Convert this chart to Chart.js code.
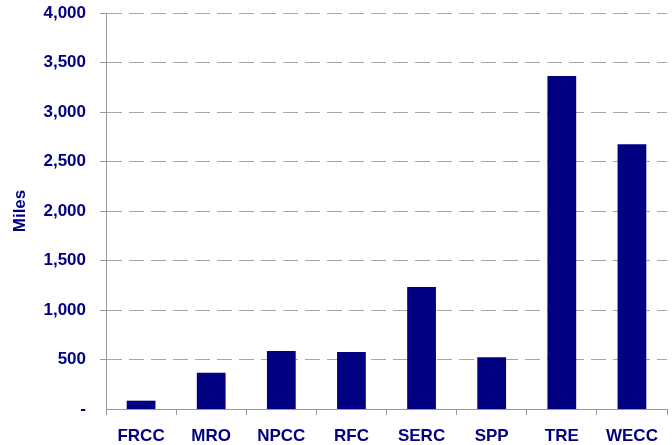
<!DOCTYPE html>
<html>
<head>
<meta charset="utf-8">
<script src="https://cdn.jsdelivr.net/npm/chart.js@4"></script>
<style>
  html, body { margin: 0; padding: 0; background: #fff; }
  #wrap { width: 672px; height: 445px; }
</style>
</head>
<body>
<div id="wrap"><canvas id="myChart" width="672" height="445"></canvas></div>
<script>
const regions = ['FRCC', 'MRO', 'NPCC', 'RFC', 'SERC', 'SPP', 'TRE', 'WECC'];
const miles = [84, 367, 586, 576, 1232, 522, 3364, 2674];
const yTicks = [0, 500, 1000, 1500, 2000, 2500, 3000, 3500, 4000];

const navy = '#000080';
const labelFont = { family: 'Arial, "Liberation Sans", sans-serif', size: 17, weight: 'bold' };

const ctx = document.getElementById('myChart').getContext('2d');
const myChart = new Chart(ctx, {
    type: 'bar',
    data: {
        labels: regions,
        datasets: [{
            label: 'Miles',
            data: miles,
            backgroundColor: navy,
            borderWidth: 0,
            barPercentage: 0.41,
            categoryPercentage: 1
        }]
    },
    options: {
        responsive: false,
        animation: false,
        layout: { padding: { top: 13, right: 5, left: 10, bottom: 0 } },
        plugins: {
            legend: { display: false },
            tooltip: { enabled: false }
        },
        scales: {
            x: {
                offset: true,
                grid: {
                    offset: true,
                    drawOnChartArea: false,
                    color: '#999999',
                    tickLength: 6
                },
                border: { color: '#999999', width: 1 },
                ticks: { color: navy, font: labelFont, padding: 11, maxRotation: 0 },
                afterFit: function (scale) {
                    scale.height = 36;
                    scale.paddingLeft = 0;
                    scale.paddingRight = 0;
                }
            },
            y: {
                min: 0,
                max: 4000,
                afterBuildTicks: function (scale) {
                    scale.ticks = yTicks.map(v => ({ value: v }));
                },
                grid: {
                    color: '#a6a6a6',
                    tickColor: '#999999',
                    tickLength: 6,
                    tickBorderDash: [],
                    lineWidth: function (c) { return c.tick && c.tick.value === 0 ? 0 : 1; }
                },
                // in v4 border.dash dashes the grid lines
                border: { color: '#999999', width: 1, dash: [15, 7] },
                ticks: {
                    color: navy,
                    font: labelFont,
                    padding: 14,
                    callback: function (v) { return v === 0 ? '-' : v.toLocaleString('en-US'); }
                },
                title: {
                    display: true,
                    text: 'Miles',
                    color: navy,
                    font: labelFont,
                    padding: 0
                },
                afterFit: function (scale) {
                    scale.width = 96;
                    scale.paddingTop = 0;
                    scale.paddingBottom = 0;
                }
            }
        }
    }
});
</script>
</body>
</html>
